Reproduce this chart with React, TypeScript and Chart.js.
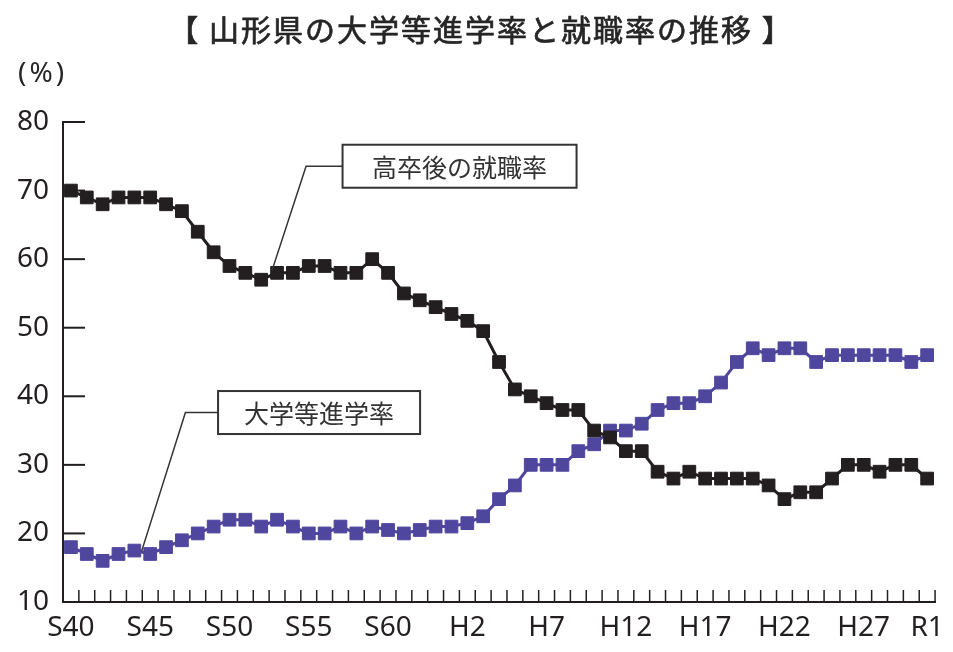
import React, { useEffect, useRef } from "react";
import { Chart, registerables } from "chart.js";

Chart.register(...registerables);

const categories: string[] = [
  "S40","S41","S42","S43","S44","S45","S46","S47","S48","S49",
  "S50","S51","S52","S53","S54","S55","S56","S57","S58","S59",
  "S60","S61","S62","S63","H1","H2","H3","H4","H5","H6",
  "H7","H8","H9","H10","H11","H12","H13","H14","H15","H16",
  "H17","H18","H19","H20","H21","H22","H23","H24","H25","H26",
  "H27","H28","H29","H30","R1",
];

const shownLabels: string[] = ["S40","S45","S50","S55","S60","H2","H7","H12","H17","H22","H27","R1"];

const employmentRate: number[] = [
  70,69,68,69,69,69,68,67,64,61,
  59,58,57,58,58,59,59,58,58,60,
  58,55,54,53,52,51,49.5,45,41,40,
  39,38,38,35,34,32,32,29,28,29,
  28,28,28,28,27,25,26,26,28,30,
  30,29,30,30,28,
];

const universityRate: number[] = [
  18,17,16,17,17.5,17,18,19,20,21,
  22,22,21,22,21,20,20,21,20,21,
  20.5,20,20.5,21,21,21.5,22.5,25,27,30,
  30,30,32,33,35,35,36,38,39,39,
  40,42,45,47,46,47,47,45,46,46,
  46,46,46,45,46,
];

const yTicks: number[] = [20, 30, 40, 50, 60, 70, 80];

const TITLE = "【 山形県の大学等進学率と就職率の推移 】";
const UNIT = "(%)";
const LABEL_EMP = "高卒後の就職率";
const LABEL_UNI = "大学等進学率";

const BLACK = "#231f20";
const PURPLE = "#4f479e";
const TEXT = "#262626";

// annotation anchors in data units (category index, value)
const annotations = [
  { text: LABEL_EMP, box: [24.51, 73.55], elbow: [14.83, 73.55], end: [12.69, 58.4], w: 234, h: 43 },
  { text: LABEL_UNI, box: [15.65, 37.63], elbow: [7.22, 37.63], end: [4.46, 17.42], w: 202, h: 43 },
];

const overlay = {
  id: "overlay",
  afterDraw(chart: any) {
    const { ctx, scales } = chart;
    const x = scales.x;
    const y = scales.y;
    ctx.save();
    // inward ticks on x axis
    ctx.strokeStyle = BLACK;
    ctx.lineWidth = 1.5;
    const bottom = y.getPixelForValue(10);
    for (let i = 1; i <= categories.length; i++) {
      const px = x.getPixelForValue(i - 0.5);
      ctx.beginPath();
      ctx.moveTo(px, bottom);
      ctx.lineTo(px, bottom - 12);
      ctx.stroke();
    }
    // inward ticks on y axis
    ctx.lineWidth = 2;
    for (const v of yTicks) {
      const py = y.getPixelForValue(v);
      ctx.beginPath();
      ctx.moveTo(x.left, py);
      ctx.lineTo(x.left + 22, py);
      ctx.stroke();
    }
    // title
    ctx.fillStyle = TEXT;
    ctx.strokeStyle = TEXT;
    ctx.lineWidth = 0.7;
    ctx.textAlign = "center";
    ctx.textBaseline = "middle";
    ctx.font = '30px "Noto Sans CJK JP"';
    (ctx as any).letterSpacing = "2px";
    ctx.fillText(TITLE, 481, 30);
    ctx.strokeText(TITLE, 481, 30);
    // unit
    ctx.textAlign = "left";
    ctx.font = '28px "Noto Sans"';
    (ctx as any).letterSpacing = "3px";
    ctx.fillText(UNIT, 18, 74);
    (ctx as any).letterSpacing = "0px";
    // annotations
    for (const a of annotations) {
      const cx = x.getPixelForValue(a.box[0]);
      const cy = y.getPixelForValue(a.box[1]);
      const ex = x.getPixelForValue(a.elbow[0]);
      const ey = y.getPixelForValue(a.elbow[1]);
      const tx = x.getPixelForValue(a.end[0]);
      const ty = y.getPixelForValue(a.end[1]);
      ctx.strokeStyle = "#333";
      ctx.lineWidth = 1.5;
      ctx.beginPath();
      ctx.moveTo(cx - a.w / 2, cy);
      ctx.lineTo(ex, ey);
      ctx.lineTo(tx, ty);
      ctx.stroke();
      ctx.fillStyle = "#fff";
      ctx.fillRect(cx - a.w / 2, cy - a.h / 2, a.w, a.h);
      ctx.lineWidth = 2;
      ctx.strokeRect(cx - a.w / 2, cy - a.h / 2, a.w, a.h);
      ctx.fillStyle = "#333";
      ctx.textAlign = "center";
      ctx.textBaseline = "middle";
      ctx.font = '25px "Noto Sans CJK JP"';
      ctx.fillText(a.text, cx, cy + 1);
    }
    ctx.restore();
  },
};

export default function App() {
  const ref = useRef<HTMLCanvasElement | null>(null);
  useEffect(() => {
    if (!ref.current) return;
    const chart = new Chart(ref.current, {
      type: "line",
      data: {
        labels: categories,
        datasets: [
          {
            label: LABEL_EMP,
            data: employmentRate,
            borderColor: BLACK,
            backgroundColor: BLACK,
            borderWidth: 3,
            pointStyle: "rect",
            pointRadius: 9,
            pointBorderWidth: 1,
            tension: 0,
          },
          {
            label: LABEL_UNI,
            data: universityRate,
            borderColor: PURPLE,
            backgroundColor: PURPLE,
            borderWidth: 3,
            pointStyle: "rect",
            pointRadius: 9,
            pointBorderWidth: 1,
            tension: 0,
          },
        ],
      },
      options: {
        responsive: false,
        animation: false,
        events: [],
        layout: { padding: { top: 122, right: 15, left: 0, bottom: 0 } },
        plugins: { legend: { display: false }, title: { display: false }, tooltip: { enabled: false } },
        scales: {
          x: {
            type: "category",
            offset: true,
            grid: { display: false, drawTicks: false },
            border: { display: true, color: BLACK, width: 2 },
            ticks: {
              autoSkip: false,
              maxRotation: 0,
              minRotation: 0,
              padding: 9,
              color: BLACK,
              font: { family: '"Noto Sans"', size: 28 },
              callback: (_v: any, i: number) => (shownLabels.includes(categories[i]) ? categories[i] : ""),
            },
            afterFit: (s: any) => {
              s.height = 50;
            },
          },
          y: {
            min: 10,
            max: 80,
            grid: { display: false, drawTicks: false },
            border: { display: true, color: BLACK, width: 2 },
            ticks: {
              stepSize: 10,
              padding: 14,
              color: BLACK,
              font: { family: '"Noto Sans"', size: 28 },
            },
            afterFit: (s: any) => {
              s.width = 63;
            },
          },
        },
      },
      plugins: [overlay],
    });
    return () => chart.destroy();
  }, []);
  return (
    <div style={{ position: "absolute", left: 0, top: 0, width: 953, height: 652, background: "#fff" }}>
      <canvas ref={ref} width={953} height={652} />
    </div>
  );
}
